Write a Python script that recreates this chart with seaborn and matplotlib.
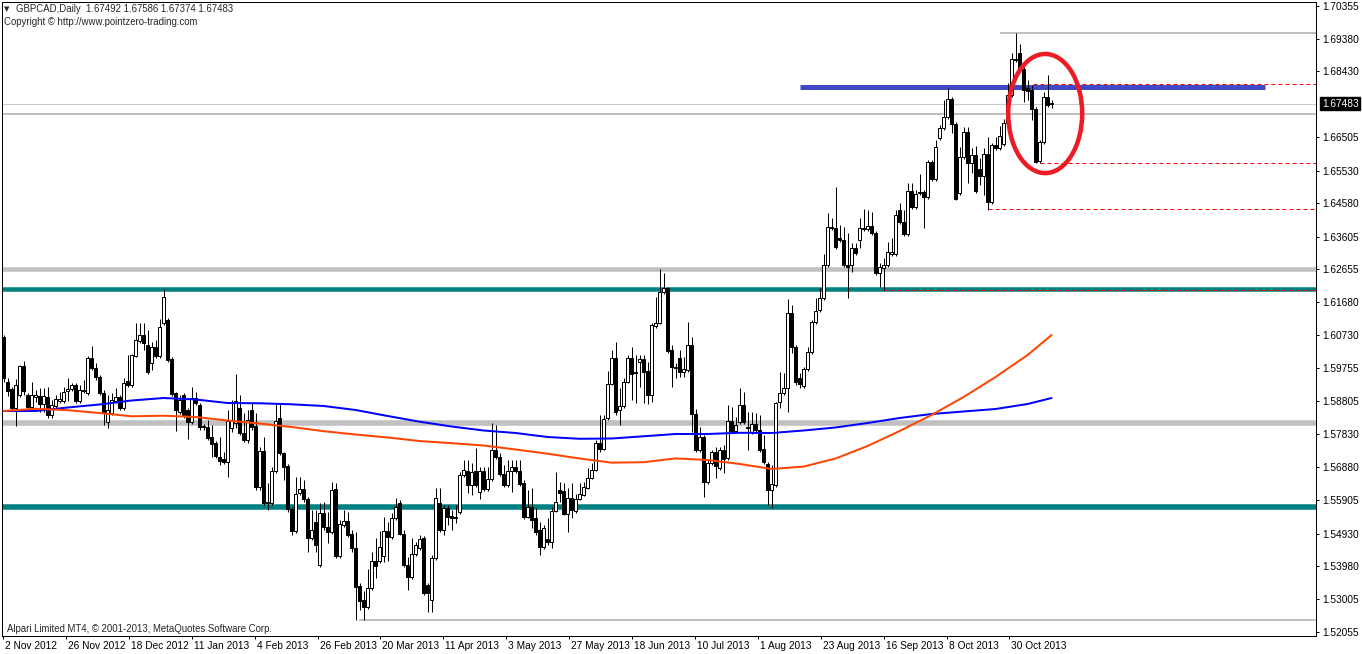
import numpy as np
import pandas as pd
import matplotlib
matplotlib.use("Agg")
import matplotlib.pyplot as plt
from matplotlib import transforms
from matplotlib.patches import Ellipse
import seaborn as sns

# ---------------- data ----------------
bar_open = [
    1.6067, 1.5936, 1.5915, 1.5860, 1.5898, 1.5983, 1.5898, 1.5863, 1.5892, 1.5895,
    1.5872, 1.5892, 1.5839, 1.5866, 1.5880, 1.5880, 1.5910, 1.5915, 1.5927, 1.5880,
    1.5910, 1.5904, 1.6006, 1.5977, 1.5950, 1.5904, 1.5819, 1.5845, 1.5880, 1.5892,
    1.5860, 1.5939, 1.5927, 1.6012, 1.6056, 1.6073, 1.6044, 1.5991, 1.6038, 1.6012,
    1.6108, 1.6117, 1.6003, 1.5904, 1.5848, 1.5898, 1.5854, 1.5819, 1.5889, 1.5869,
    1.5807, 1.5804, 1.5775, 1.5758, 1.5717, 1.5711, 1.5702, 1.5801, 1.5816, 1.5860,
    1.5787, 1.5766, 1.5854, 1.5807, 1.5629, 1.5734, 1.5585, 1.5582, 1.5676, 1.5831,
    1.5728, 1.5690, 1.5565, 1.5501, 1.5612, 1.5623, 1.5594, 1.5480, 1.5527, 1.5401,
    1.5553, 1.5512, 1.5498, 1.5623, 1.5428, 1.5518, 1.5530, 1.5492, 1.5451, 1.5340,
    1.5299, 1.5279, 1.5334, 1.5413, 1.5413, 1.5428, 1.5501, 1.5483, 1.5539, 1.5582,
    1.5492, 1.5401, 1.5366, 1.5433, 1.5451, 1.5480, 1.5343, 1.5299, 1.5422, 1.5582,
    1.5504, 1.5568, 1.5544, 1.5539, 1.5556, 1.5664, 1.5676, 1.5635, 1.5676, 1.5615,
    1.5676, 1.5623, 1.5652, 1.5737, 1.5717, 1.5667, 1.5635, 1.5676, 1.5688, 1.5676,
    1.5641, 1.5542, 1.5571, 1.5539, 1.5504, 1.5454, 1.5477, 1.5469, 1.5559, 1.5620,
    1.5617, 1.5550, 1.5597, 1.5559, 1.5594, 1.5606, 1.5626, 1.5655, 1.5679, 1.5758,
    1.5740, 1.5831, 1.5930, 1.6006, 1.5854, 1.5866, 1.5936, 1.6006, 1.5965, 1.5994,
    1.6003, 1.5968, 1.5898, 1.6099, 1.6108, 1.6199, 1.6210, 1.6029, 1.5980, 1.6006,
    1.5965, 1.5971, 1.6044, 1.5842, 1.5737, 1.5775, 1.5644, 1.5699, 1.5731, 1.5685,
    1.5737, 1.5714, 1.5822, 1.5793, 1.5819, 1.5869, 1.5804, 1.5790, 1.5813, 1.5796,
    1.5740, 1.5696, 1.5620, 1.5635, 1.5877, 1.5904, 1.5918, 1.6137, 1.6038, 1.5947,
    1.5924, 1.5974, 1.6024, 1.6111, 1.6146, 1.6181, 1.6278, 1.6389, 1.6386, 1.6356,
    1.6351, 1.6278, 1.6278, 1.6327, 1.6351, 1.6386, 1.6383, 1.6392, 1.6371, 1.6254,
    1.6269, 1.6278, 1.6310, 1.6310, 1.6438, 1.6403, 1.6368, 1.6494, 1.6447, 1.6488,
    1.6491, 1.6476, 1.6578, 1.6529, 1.6649, 1.6678, 1.6710, 1.6762, 1.6689, 1.6488,
    1.6593, 1.6666, 1.6575, 1.6599, 1.6558, 1.6538, 1.6602, 1.6462, 1.6628, 1.6619,
    1.6631, 1.6692, 1.6774, 1.6876, 1.6897, 1.6850, 1.6795, 1.6789, 1.6733, 1.6581,
    1.6637, 1.6768, 1.67492,
]
bar_high = [
    1.6073, 1.5947, 1.5921, 1.5945, 1.5985, 1.5997, 1.5904, 1.5936, 1.5912, 1.5918,
    1.5918, 1.5921, 1.5883, 1.5898, 1.5907, 1.5921, 1.5947, 1.5933, 1.5933, 1.5927,
    1.5942, 1.6012, 1.6041, 1.5991, 1.5956, 1.5912, 1.5898, 1.5904, 1.5918, 1.5898,
    1.5947, 1.6015, 1.6018, 1.6108, 1.6108, 1.6108, 1.6088, 1.6053, 1.6059, 1.6120,
    1.6207, 1.6123, 1.6009, 1.5907, 1.5898, 1.5904, 1.5860, 1.5921, 1.5907, 1.5874,
    1.5813, 1.5825, 1.5810, 1.5764, 1.5775, 1.5731, 1.5854, 1.5883, 1.5959, 1.5898,
    1.5845, 1.5854, 1.5874, 1.5845, 1.5746, 1.5775, 1.5641, 1.5688, 1.5874, 1.5874,
    1.5731, 1.5696, 1.5571, 1.5658, 1.5658, 1.5650, 1.5600, 1.5562, 1.5562, 1.5582,
    1.5585, 1.5556, 1.5644, 1.5641, 1.5533, 1.5562, 1.5556, 1.5504, 1.5498, 1.5349,
    1.5325, 1.5390, 1.5439, 1.5480, 1.5501, 1.5542, 1.5527, 1.5553, 1.5597, 1.5591,
    1.5504, 1.5425, 1.5480, 1.5469, 1.5489, 1.5486, 1.5349, 1.5431, 1.5626, 1.5626,
    1.5577, 1.5577, 1.5562, 1.5577, 1.5673, 1.5708, 1.5708, 1.5699, 1.5743, 1.5688,
    1.5688, 1.5688, 1.5816, 1.5810, 1.5728, 1.5693, 1.5708, 1.5708, 1.5708, 1.5708,
    1.5650, 1.5620, 1.5626, 1.5568, 1.5527, 1.5518, 1.5539, 1.5571, 1.5673, 1.5644,
    1.5641, 1.5626, 1.5641, 1.5609, 1.5641, 1.5644, 1.5685, 1.5699, 1.5766, 1.5839,
    1.5839, 1.5968, 1.6029, 1.6053, 1.5918, 1.5947, 1.6015, 1.6038, 1.6015, 1.6015,
    1.6015, 1.5994, 1.6108, 1.6184, 1.6266, 1.6254, 1.6213, 1.6044, 1.5991, 1.6029,
    1.6009, 1.6111, 1.6067, 1.5857, 1.5804, 1.5781, 1.5708, 1.5737, 1.5746, 1.5746,
    1.5752, 1.5869, 1.5863, 1.5834, 1.5918, 1.5907, 1.5848, 1.5848, 1.5845, 1.5839,
    1.5781, 1.5702, 1.5693, 1.5877, 1.5965, 1.5962, 1.6178, 1.6161, 1.6044, 1.5962,
    1.5980, 1.6038, 1.6117, 1.6181, 1.6210, 1.6310, 1.6429, 1.6415, 1.6505, 1.6394,
    1.6389, 1.6371, 1.6342, 1.6342, 1.6415, 1.6441, 1.6438, 1.6432, 1.6377, 1.6283,
    1.6298, 1.6345, 1.6356, 1.6438, 1.6459, 1.6438, 1.6517, 1.6517, 1.6497, 1.6543,
    1.6497, 1.6584, 1.6584, 1.6643, 1.6687, 1.6760, 1.6795, 1.6768, 1.6695, 1.6622,
    1.6681, 1.6681, 1.6619, 1.6625, 1.6590, 1.6619, 1.6652, 1.6634, 1.6652, 1.6684,
    1.6704, 1.6809, 1.6897, 1.6955, 1.6923, 1.6856, 1.6818, 1.6803, 1.6739, 1.6643,
    1.6783, 1.6833, 1.67586,
]
bar_low = [
    1.5936, 1.5895, 1.5854, 1.5807, 1.5892, 1.5898, 1.5854, 1.5860, 1.5877, 1.5848,
    1.5848, 1.5831, 1.5831, 1.5860, 1.5874, 1.5874, 1.5880, 1.5910, 1.5874, 1.5874,
    1.5904, 1.5898, 1.5971, 1.5942, 1.5898, 1.5810, 1.5801, 1.5839, 1.5874, 1.5854,
    1.5854, 1.5921, 1.5921, 1.6009, 1.6050, 1.6029, 1.5959, 1.5971, 1.6006, 1.6006,
    1.6102, 1.5994, 1.5895, 1.5793, 1.5842, 1.5831, 1.5769, 1.5813, 1.5869, 1.5796,
    1.5796, 1.5766, 1.5717, 1.5714, 1.5693, 1.5696, 1.5658, 1.5790, 1.5801, 1.5781,
    1.5761, 1.5758, 1.5796, 1.5620, 1.5620, 1.5577, 1.5562, 1.5577, 1.5670, 1.5723,
    1.5650, 1.5556, 1.5489, 1.5495, 1.5606, 1.5585, 1.5439, 1.5474, 1.5439, 1.5395,
    1.5504, 1.5466, 1.5492, 1.5422, 1.5422, 1.5512, 1.5483, 1.5439, 1.5241, 1.5270,
    1.5241, 1.5273, 1.5328, 1.5363, 1.5407, 1.5410, 1.5413, 1.5477, 1.5533, 1.5489,
    1.5395, 1.5328, 1.5360, 1.5428, 1.5445, 1.5314, 1.5264, 1.5264, 1.5416, 1.5498,
    1.5489, 1.5518, 1.5504, 1.5524, 1.5550, 1.5658, 1.5612, 1.5606, 1.5629, 1.5594,
    1.5617, 1.5617, 1.5647, 1.5711, 1.5661, 1.5629, 1.5629, 1.5615, 1.5670, 1.5632,
    1.5536, 1.5539, 1.5509, 1.5489, 1.5431, 1.5448, 1.5460, 1.5451, 1.5556, 1.5585,
    1.5547, 1.5498, 1.5539, 1.5553, 1.5591, 1.5603, 1.5623, 1.5652, 1.5676, 1.5731,
    1.5737, 1.5825, 1.5927, 1.5839, 1.5810, 1.5860, 1.5933, 1.5883, 1.5874, 1.5921,
    1.5874, 1.5872, 1.5877, 1.6094, 1.6105, 1.6193, 1.6021, 1.5921, 1.5947, 1.5950,
    1.5950, 1.5965, 1.5790, 1.5731, 1.5731, 1.5600, 1.5638, 1.5693, 1.5655, 1.5679,
    1.5670, 1.5708, 1.5787, 1.5787, 1.5813, 1.5813, 1.5737, 1.5784, 1.5790, 1.5731,
    1.5696, 1.5577, 1.5568, 1.5629, 1.5860, 1.5898, 1.5848, 1.6021, 1.5927, 1.5918,
    1.5918, 1.5968, 1.6018, 1.6105, 1.6140, 1.6175, 1.6272, 1.6380, 1.6324, 1.6345,
    1.6272, 1.6181, 1.6257, 1.6307, 1.6327, 1.6377, 1.6377, 1.6365, 1.6248, 1.6213,
    1.6205, 1.6272, 1.6304, 1.6304, 1.6397, 1.6362, 1.6362, 1.6441, 1.6441, 1.6482,
    1.6386, 1.6470, 1.6523, 1.6523, 1.6643, 1.6672, 1.6704, 1.6663, 1.6467, 1.6482,
    1.6587, 1.6517, 1.6546, 1.6488, 1.6511, 1.6482, 1.6438, 1.6456, 1.6614, 1.6614,
    1.6625, 1.6687, 1.6768, 1.6871, 1.6841, 1.6754, 1.6760, 1.6701, 1.6575, 1.6575,
    1.6631, 1.6739, 1.67374,
]
bar_close = [
    1.5947, 1.5910, 1.5860, 1.5927, 1.5983, 1.5910, 1.5863, 1.5898, 1.5898, 1.5872,
    1.5895, 1.5839, 1.5869, 1.5886, 1.5886, 1.5907, 1.5915, 1.5927, 1.5880, 1.5912,
    1.5912, 1.6006, 1.5977, 1.5950, 1.5904, 1.5845, 1.5854, 1.5883, 1.5892, 1.5860,
    1.5933, 1.5927, 1.6015, 1.6059, 1.6073, 1.6050, 1.5965, 1.6038, 1.6012, 1.6097,
    1.6184, 1.6000, 1.5901, 1.5854, 1.5883, 1.5839, 1.5819, 1.5889, 1.5874, 1.5804,
    1.5804, 1.5772, 1.5755, 1.5720, 1.5705, 1.5702, 1.5822, 1.5825, 1.5880, 1.5787,
    1.5766, 1.5825, 1.5804, 1.5629, 1.5734, 1.5582, 1.5582, 1.5676, 1.5822, 1.5728,
    1.5688, 1.5565, 1.5501, 1.5609, 1.5623, 1.5594, 1.5480, 1.5504, 1.5460, 1.5553,
    1.5512, 1.5498, 1.5620, 1.5428, 1.5521, 1.5530, 1.5489, 1.5451, 1.5337, 1.5296,
    1.5279, 1.5334, 1.5413, 1.5398, 1.5454, 1.5501, 1.5483, 1.5539, 1.5571, 1.5492,
    1.5401, 1.5366, 1.5433, 1.5460, 1.5477, 1.5319, 1.5319, 1.5422, 1.5597, 1.5504,
    1.5568, 1.5542, 1.5539, 1.5542, 1.5664, 1.5679, 1.5635, 1.5673, 1.5635, 1.5676,
    1.5623, 1.5652, 1.5737, 1.5717, 1.5667, 1.5635, 1.5676, 1.5688, 1.5676, 1.5638,
    1.5542, 1.5571, 1.5533, 1.5498, 1.5454, 1.5509, 1.5469, 1.5559, 1.5585, 1.5612,
    1.5550, 1.5597, 1.5562, 1.5594, 1.5609, 1.5629, 1.5655, 1.5679, 1.5758, 1.5740,
    1.5828, 1.5930, 1.6006, 1.5848, 1.5866, 1.5936, 1.6006, 1.5959, 1.5962, 1.6003,
    1.5965, 1.5898, 1.6102, 1.6108, 1.6199, 1.6210, 1.6026, 1.5980, 1.5977, 1.5965,
    1.5974, 1.6044, 1.5842, 1.5737, 1.5775, 1.5644, 1.5699, 1.5731, 1.5690, 1.5737,
    1.5711, 1.5822, 1.5793, 1.5810, 1.5869, 1.5819, 1.5801, 1.5813, 1.5796, 1.5737,
    1.5702, 1.5620, 1.5638, 1.5874, 1.5904, 1.5918, 1.6137, 1.6038, 1.5936, 1.5930,
    1.5974, 1.6024, 1.6111, 1.6143, 1.6181, 1.6278, 1.6389, 1.6386, 1.6330, 1.6351,
    1.6278, 1.6272, 1.6327, 1.6313, 1.6386, 1.6383, 1.6392, 1.6371, 1.6254, 1.6272,
    1.6278, 1.6316, 1.6316, 1.6424, 1.6403, 1.6368, 1.6494, 1.6447, 1.6485, 1.6491,
    1.6476, 1.6578, 1.6529, 1.6622, 1.6678, 1.6710, 1.6762, 1.6689, 1.6470, 1.6593,
    1.6666, 1.6575, 1.6599, 1.6494, 1.6538, 1.6602, 1.6462, 1.6628, 1.6619, 1.6654,
    1.6692, 1.6774, 1.6879, 1.6879, 1.6847, 1.6789, 1.6786, 1.6733, 1.6578, 1.6637,
    1.6768, 1.6745, 1.67483,
]

# moving averages (bar index -> value)
ma_bar = [0, 8, 16, 24, 32, 40, 48, 56, 64, 72, 80, 88, 96, 104, 112, 120, 128,
          136, 144, 152, 160, 168, 176, 184, 192, 200, 208, 216, 224, 232, 240,
          248, 256, 262]
ma_slow = [1.58511, 1.58511, 1.58613, 1.58701, 1.58817, 1.58890, 1.58847, 1.58744,
           1.58736, 1.58706, 1.58657, 1.58540, 1.58365, 1.58198, 1.58058, 1.57941,
           1.57868, 1.57751, 1.57699, 1.57707, 1.57772, 1.57839, 1.57839, 1.57874,
           1.57868, 1.57941, 1.58029, 1.58160, 1.58306, 1.58423, 1.58496, 1.58569,
           1.58715, 1.58890]
ma_fast = [1.58511, 1.58575, 1.58534, 1.58452, 1.58356, 1.58373, 1.58335, 1.58233,
           1.58143, 1.58043, 1.57921, 1.57824, 1.57737, 1.57634, 1.57570, 1.57503,
           1.57386, 1.57263, 1.57123, 1.57001, 1.57015, 1.57126, 1.57079, 1.56963,
           1.56817, 1.56887, 1.57123, 1.57488, 1.57926, 1.58394, 1.58920, 1.59504,
           1.60146, 1.60731]

# date labels and where they sit on the bar axis
date_pos = [-0.15, 15.58, 31.30, 47.03, 62.75, 78.48, 94.20, 109.93, 125.65,
            141.38, 157.10, 172.83, 188.55, 204.28, 220.00, 235.73, 251.45]
date_labels = ["2 Nov 2012", "26 Nov 2012", "18 Dec 2012", "11 Jan 2013", "4 Feb 2013",
               "26 Feb 2013", "20 Mar 2013", "11 Apr 2013", "3 May 2013", "27 May 2013",
               "18 Jun 2013", "10 Jul 2013", "1 Aug 2013", "23 Aug 2013", "16 Sep 2013",
               "8 Oct 2013", "30 Oct 2013"]
price_ticks = [1.70355, 1.69380, 1.68430, 1.66505, 1.65530, 1.64580, 1.63605, 1.62655,
               1.61680, 1.60730, 1.59755, 1.58805, 1.57830, 1.56880, 1.55905, 1.54930,
               1.53980, 1.53005, 1.52055]
price_labels = ["1.70355", "1.69380", "1.68430", "1.66505", "1.65530", "1.64580",
                "1.63605", "1.62655", "1.61680", "1.60730", "1.59755", "1.58805",
                "1.57830", "1.56880", "1.55905", "1.54930", "1.53980", "1.53005",
                "1.52055"]
last_price = 1.67483

# full-width horizontal levels: (price, colour, width in px)
levels_full = [(1.6266, "#C0C0C0", 4.5), (1.6206, "#008080", 4.5),
               (1.5816, "#C0C0C0", 5.5), (1.5571, "#008080", 5.5)]
thin_full = [(1.67483, "#C8C8C8", 1.0), (1.6719, "#C0C0C0", 2.0)]
# partial gray lines: (price, start bar)
gray_partial = [(1.6955, 249.1), (1.5241, 88.9)]
# red dashed lines: (price, start bar)
red_dashed = [(1.6806, 257.4), (1.6575, 259.1), (1.6440, 246.1), (1.6205, 219.9)]
# thick blue resistance line
blue_line_price = 1.6798
blue_line_bars = (199.1, 315.4)
# red ellipse (center bar, center price, width bars, height price)
ellipse_spec = (260.4, 1.6720, 18.5, 0.0348)

# ---------------- drawing ----------------
sns.set_style("white")
plt.rcParams["font.family"] = ["Liberation Sans", "DejaVu Sans"]

W, H = 1362, 654
PX = 0.72  # points per pixel at 100 dpi
FS = 7.3
FS_TXT = 6.9
fig = plt.figure(figsize=(W / 100, H / 100), dpi=100)
ax = fig.add_axes([2 / W, 18 / H, 1314 / W, 634 / H])

XMIN = -0.4
XMAX = XMIN + 1314 / 4.0
YMIN, YMAX = 1.51938, 1.70458

n = min(len(bar_open), len(bar_high), len(bar_low), len(bar_close))
df = pd.DataFrame({"open": bar_open[:n], "high": bar_high[:n],
                   "low": bar_low[:n], "close": bar_close[:n]})
df["bar"] = np.arange(n)
o = df["open"].to_numpy()
c = df["close"].to_numpy()
hi = np.maximum(df["high"].to_numpy(), np.maximum(o, c))
lo = np.minimum(df["low"].to_numpy(), np.minimum(o, c))
xb = df["bar"].to_numpy()
up = c > o

# background objects
for price, col, wpx in levels_full:
    ax.axhline(price, color=col, lw=wpx * PX, zorder=1)
for price, col, wpx in thin_full:
    ax.axhline(price, color=col, lw=wpx * PX, zorder=1)
for price, start in gray_partial:
    ax.hlines(price, start, XMAX, color="#C0C0C0", lw=2 * PX, zorder=1)
ax.hlines(blue_line_price, blue_line_bars[0], blue_line_bars[1], color="#4048C8",
          lw=5 * PX, zorder=2)
for price, start in red_dashed:
    ax.hlines(price, start, XMAX, color="#FF0000", lw=1 * PX,
              linestyles=(0, (4, 3)), zorder=2)

# candles
ax.vlines(xb, lo, hi, color="black", lw=1 * PX, zorder=3)
body_lo = np.minimum(o, c)
body_h = np.maximum(np.abs(c - o), 0.00012)
ax.bar(xb, body_h, bottom=body_lo, width=0.75,
       color=np.where(up, "white", "black"), edgecolor="black",
       linewidth=1 * PX, zorder=4)

# moving averages
ma_df = pd.DataFrame({"bar": ma_bar, "slow": ma_slow, "fast": ma_fast})
sns.lineplot(data=ma_df, x="bar", y="slow", color="#0000FF", lw=2 * PX, ax=ax, zorder=5)
sns.lineplot(data=ma_df, x="bar", y="fast", color="#FF4500", lw=2 * PX, ax=ax, zorder=5)

# ellipse
ex, ey, ew, eh = ellipse_spec
ax.add_patch(Ellipse((ex, ey), ew, eh, fill=False, edgecolor="#EC1C24",
                     lw=4.5 * PX, zorder=7))

ax.set_xlim(XMIN, XMAX)
ax.set_ylim(YMIN, YMAX)
ax.set_xlabel("")
ax.set_ylabel("")

# axes frame
for sp in ax.spines.values():
    sp.set_visible(True)
    sp.set_color("black")
    sp.set_linewidth(1 * PX)

# x ticks (dates), left aligned after tick
ax.set_xticks(date_pos)
ax.set_xticklabels(date_labels)
ax.tick_params(axis="x", bottom=True, top=False, direction="out", length=3 * PX,
               width=1 * PX, pad=1.5, labelsize=FS, colors="black")
offset = transforms.ScaledTranslation(2 / 100, 0, fig.dpi_scale_trans)
for lab in ax.get_xticklabels():
    lab.set_horizontalalignment("left")
    lab.set_transform(lab.get_transform() + offset)

# y ticks on the right
ax.yaxis.tick_right()
ax.set_yticks(price_ticks)
ax.set_yticklabels(price_labels)
ax.tick_params(axis="y", right=True, left=False, direction="out", length=3 * PX,
               width=1 * PX, pad=3 * PX, labelsize=FS, colors="black")

# current price box
tr = transforms.blended_transform_factory(ax.transAxes, ax.transData)
tr = transforms.offset_copy(tr, fig=fig, x=6, y=0, units="dots")
ax.text(1.0, last_price, f"{last_price:.5f}", transform=tr, color="white",
        fontsize=FS, va="center", ha="left", clip_on=False, zorder=10,
        bbox=dict(facecolor="black", edgecolor="black", boxstyle="square,pad=0.15"))

# header / footer texts
fig.text(4 / W, 1 - 9 / H, "\u25BC", fontsize=5, va="center", ha="left",
         family=["DejaVu Sans"])
fig.text(16 / W, 1 - 9 / H, "GBPCAD,Daily  1.67492 1.67586 1.67374 1.67483",
         fontsize=FS_TXT, va="center", ha="left")
fig.text(4 / W, 1 - 22 / H, "Copyright \u00A9 http://www.pointzero-trading.com",
         fontsize=FS_TXT, va="center", ha="left")
fig.text(7 / W, 1 - 629 / H,
         "Alpari Limited MT4, \u00A9 2001-2013, MetaQuotes Software Corp.",
         fontsize=FS_TXT, va="center", ha="left")

fig.savefig("out.png", dpi=100, facecolor="white")
